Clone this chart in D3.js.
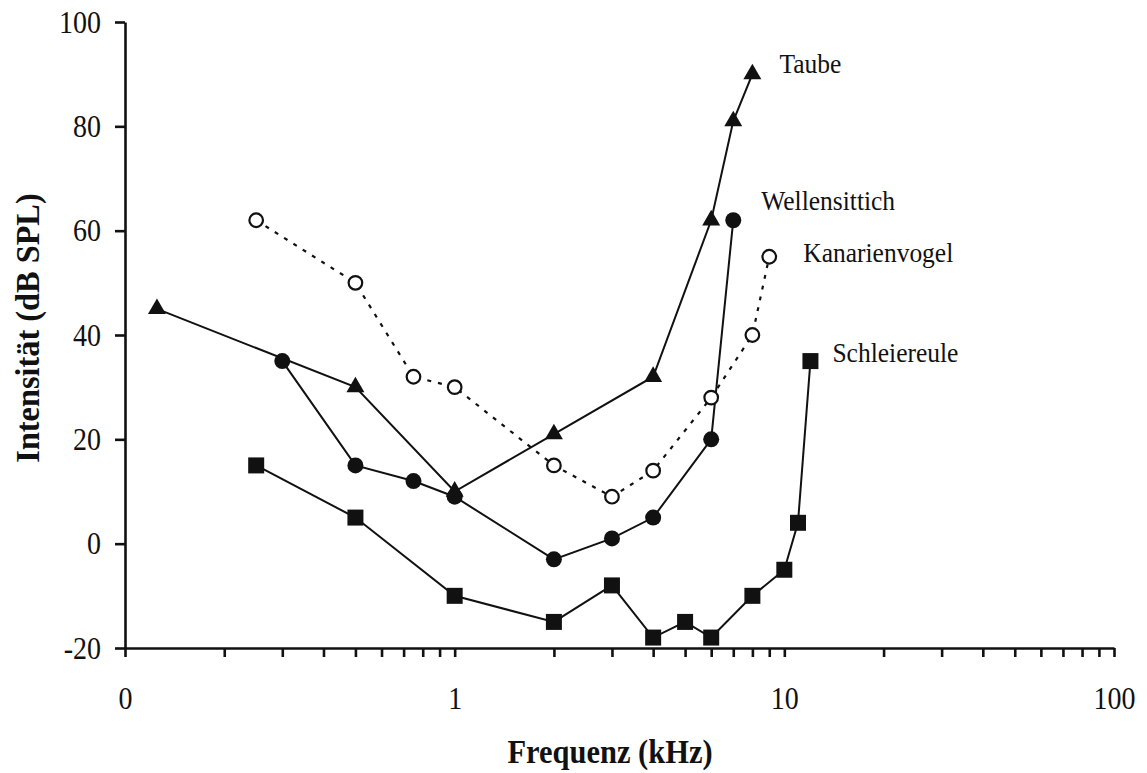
<!DOCTYPE html>
<html>
<head>
<meta charset="utf-8">
<script src="https://cdn.jsdelivr.net/npm/d3@7"></script>
<style>
  html, body { margin: 0; padding: 0; background: #fff; }
  svg { display: block; }
  text { font-family: "Liberation Serif", "Times New Roman", serif; fill: #111; }
</style>
</head>
<body>
<svg id="chart" width="1147" height="773"></svg>
<script>
// ---- data ----
const seriesNames = ["Taube", "Wellensittich", "Kanarienvogel", "Schleiereule"];
const taubeFreq = [0.125, 0.5, 1, 2, 4, 6, 7, 8];
const taubeVals = [45, 30, 10, 21, 32, 62, 81, 90];
const wellFreq = [0.3, 0.5, 0.75, 1, 2, 3, 4, 6, 7];
const wellVals = [35, 15, 12, 9, -3, 1, 5, 20, 62];
const kanFreq = [0.25, 0.5, 0.75, 1, 2, 3, 4, 6, 8, 9];
const kanVals = [62, 50, 32, 30, 15, 9, 14, 28, 40, 55];
const schFreq = [0.25, 0.5, 1, 2, 3, 4, 5, 6, 8, 10, 11, 12];
const schVals = [15, 5, -10, -15, -8, -18, -15, -18, -10, -5, 4, 35];
const xTickValues = [0.1, 1, 10, 100];
const xTickLabels = ["0", "1", "10", "100"];
const yTickValues = [-20, 0, 20, 40, 60, 80, 100];
const xTitle = "Frequenz (kHz)";
const yTitle = "Intensität (dB SPL)";

// ---- chart ----
const svg = d3.select("#chart");
const x = d3.scaleLog().domain([0.1, 100]).range([125, 1114]);
const y = d3.scaleLinear().domain([-20, 100]).range([648, 22]);
const STRETCH = 1.12;

const minorTicks = [];
[0.1, 1, 10].forEach(d => { for (let k = 1; k <= 9; k++) minorTicks.push(d * k); });
minorTicks.push(100);

const xAxis = d3.axisBottom(x)
  .tickValues(minorTicks)
  .tickSize(9)
  .tickSizeOuter(0)
  .tickPadding(30)
  .tickFormat(d => {
    const i = xTickValues.findIndex(v => Math.abs(v - d) < 1e-9);
    return i >= 0 ? xTickLabels[i] : "";
  });
const yAxis = d3.axisLeft(y)
  .tickValues(yTickValues)
  .tickSize(10)
  .tickSizeOuter(0)
  .tickPadding(14)
  .tickFormat(d => String(d));

const gx = svg.append("g").attr("transform", `translate(0,${y(-20)})`).call(xAxis);
const gy = svg.append("g").attr("transform", `translate(${x(0.1)},0)`).call(yAxis);
[gx, gy].forEach(g => {
  g.selectAll("path.domain").attr("stroke", "#111").attr("stroke-width", 2.6);
  g.selectAll(".tick line").attr("stroke", "#111").attr("stroke-width", 2.6);
  g.selectAll(".tick text").style("font-family", '"Liberation Serif", serif')
    .style("font-size", "28px").attr("fill", "#111")
    .each(function() {
      const t = d3.select(this);
      const tx = +t.attr("x") || 0, ty = +t.attr("y") || 0;
      t.attr("x", 0).attr("y", 0)
        .attr("transform", `translate(${tx},${ty}) scale(1,${STRETCH})`);
    });
});

// Axis titles
svg.append("text")
  .attr("transform", `translate(610,763) scale(1,${STRETCH})`)
  .attr("text-anchor", "middle")
  .style("font-size", "30.5px").style("font-weight", "bold")
  .text(xTitle);
svg.append("text")
  .attr("transform", `translate(39,328) rotate(-90) scale(1.06,${STRETCH})`)
  .attr("text-anchor", "middle")
  .style("font-size", "30.5px").style("font-weight", "bold")
  .text(yTitle);

const line = d3.line().x(d => x(d[0])).y(d => y(d[1]));
const zip = (f, v) => f.map((d, i) => [d, v[i]]);

const taube = zip(taubeFreq, taubeVals);
const well = zip(wellFreq, wellVals);
const kan = zip(kanFreq, kanVals);
const sch = zip(schFreq, schVals);

const ink = "#111";

// lines
svg.append("path").datum(sch).attr("d", line).attr("fill", "none").attr("stroke", ink).attr("stroke-width", 2);
svg.append("path").datum(kan).attr("d", line).attr("fill", "none").attr("stroke", ink).attr("stroke-width", 2.2).attr("stroke-dasharray", "4,7");
svg.append("path").datum(well).attr("d", line).attr("fill", "none").attr("stroke", ink).attr("stroke-width", 2);
svg.append("path").datum(taube).attr("d", line).attr("fill", "none").attr("stroke", ink).attr("stroke-width", 2);

// markers
svg.append("g").selectAll("path").data(sch).join("path")
  .attr("d", d3.symbol().type(d3.symbolSquare).size(256))
  .attr("transform", d => `translate(${x(d[0])},${y(d[1])})`)
  .attr("fill", ink);
svg.append("g").selectAll("circle").data(kan).join("circle")
  .attr("cx", d => x(d[0])).attr("cy", d => y(d[1])).attr("r", 6.8)
  .attr("fill", "#fff").attr("stroke", ink).attr("stroke-width", 2.2);
svg.append("g").selectAll("circle").data(well).join("circle")
  .attr("cx", d => x(d[0])).attr("cy", d => y(d[1])).attr("r", 8)
  .attr("fill", ink);
svg.append("g").selectAll("path").data(taube).join("path")
  .attr("d", d3.symbol().type(d3.symbolTriangle).size(140))
  .attr("transform", d => `translate(${x(d[0])},${y(d[1])})`)
  .attr("fill", ink);

// series labels near last point
const labelOffsets = [[27, -1], [28, -10], [34, 5], [22, 1]];
[taube, well, kan, sch].forEach((s, i) => {
  const last = s[s.length - 1];
  svg.append("text")
    .attr("transform", `translate(${x(last[0]) + labelOffsets[i][0]},${y(last[1]) + labelOffsets[i][1]}) scale(1,1.09)`)
    .style("font-size", "25.5px")
    .text(seriesNames[i]);
});
</script>
</body>
</html>
